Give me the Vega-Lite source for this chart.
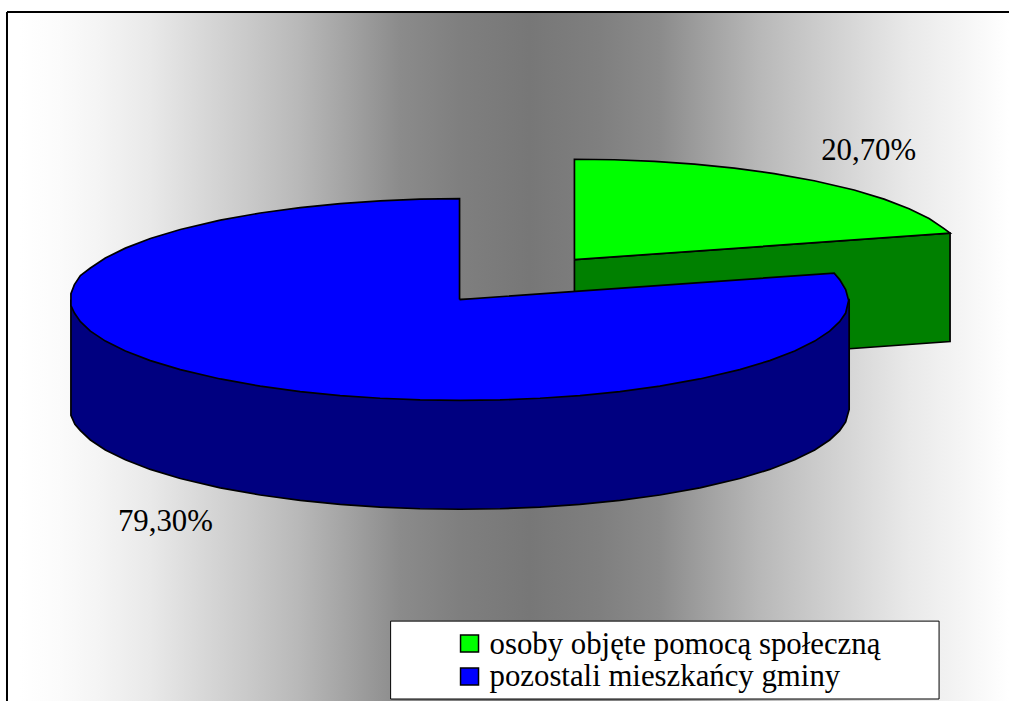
{
"$schema":"https://vega.github.io/schema/vega-lite/v6.json",
"width":1010,"height":702,"autosize":{"type":"fit","contains":"padding"},"padding":0,"background":"white",
"config":{"view":{"stroke":null}},
"datasets":{
"frame":[{"x":7,"x2":1010,"y":12,"y2":702}],
"topline":[{"x":7,"x2":1010,"y":12}],
"leftline":[{"x":7,"y":12,"y2":702}],
"legendbox":[{"x":391,"x2":940,"y":622,"y2":700}],
"swatches":[{"label":"osoby objęte pomocą społeczną","x":461,"x2":479,"y":636,"y2":653},{"label":"pozostali mieszkańcy gminy","x":461,"x2":479,"y":669,"y2":686}],
"labels":[{"label":"20,70%","x":822,"y":160},{"label":"79,30%","x":118,"y":532},{"label":"osoby objęte pomocą społeczną","x":490,"y":655},{"label":"pozostali mieszkańcy gminy","x":490,"y":687}],
"greenwall":[{"i":0,"x":575,"y":260},{"i":1,"x":951,"y":233.5},{"i":2,"x":951,"y":342},{"i":3,"x":575,"y":369},{"i":4,"x":575,"y":260}],
"greentop":[{"i":0,"x":575,"y":260},{"i":1,"x":575,"y":159.5},{"i":2,"x":615,"y":160},{"i":3,"x":655,"y":161.7},{"i":4,"x":695,"y":164.4},{"i":5,"x":735,"y":168.4},{"i":6,"x":775,"y":173.8},{"i":7,"x":815,"y":181},{"i":8,"x":855,"y":190.3},{"i":9,"x":885,"y":199.4},{"i":10,"x":910,"y":209},{"i":11,"x":930,"y":218.9},{"i":12,"x":945,"y":228.9},{"i":13,"x":951,"y":233.5},{"i":14,"x":575,"y":260}],
"bluewall":[{"i":0,"x":71,"y":300},{"i":1,"x":71,"y":416},{"i":2,"x":75,"y":425},{"i":3,"x":80.5,"y":431.2},{"i":4,"x":90.5,"y":440.6},{"i":5,"x":105.5,"y":450.6},{"i":6,"x":125.5,"y":460.5},{"i":7,"x":150.5,"y":470.1},{"i":8,"x":180.5,"y":479.2},{"i":9,"x":220.5,"y":488.5},{"i":10,"x":260.5,"y":495.7},{"i":11,"x":300.5,"y":501.1},{"i":12,"x":340.5,"y":505.1},{"i":13,"x":380.5,"y":507.8},{"i":14,"x":420.5,"y":509.5},{"i":15,"x":460.5,"y":510},{"i":16,"x":500.5,"y":509.5},{"i":17,"x":540.5,"y":507.8},{"i":18,"x":580.5,"y":505.1},{"i":19,"x":620.5,"y":501.1},{"i":20,"x":660.5,"y":495.7},{"i":21,"x":700.5,"y":488.5},{"i":22,"x":740.5,"y":479.2},{"i":23,"x":770.5,"y":470.1},{"i":24,"x":795.5,"y":460.5},{"i":25,"x":815.5,"y":450.6},{"i":26,"x":830.5,"y":440.6},{"i":27,"x":840.5,"y":431.2},{"i":28,"x":846.5,"y":422.5},{"i":29,"x":850,"y":410},{"i":30,"x":850,"y":300},{"i":31,"x":71,"y":300}],
"bluetop":[{"i":0,"x":460,"y":300},{"i":1,"x":460,"y":199},{"i":2,"x":420.5,"y":199.5},{"i":3,"x":380.5,"y":201.2},{"i":4,"x":340.5,"y":203.9},{"i":5,"x":300.5,"y":207.9},{"i":6,"x":260.5,"y":213.3},{"i":7,"x":220.5,"y":220.5},{"i":8,"x":180.5,"y":229.8},{"i":9,"x":150.5,"y":238.9},{"i":10,"x":125.5,"y":248.5},{"i":11,"x":105.5,"y":258.4},{"i":12,"x":90.5,"y":268.4},{"i":13,"x":80.5,"y":276},{"i":14,"x":74.5,"y":285},{"i":15,"x":71,"y":294},{"i":16,"x":71,"y":306},{"i":17,"x":74.5,"y":313.5},{"i":18,"x":80.5,"y":322.2},{"i":19,"x":90.5,"y":331.6},{"i":20,"x":105.5,"y":341.6},{"i":21,"x":125.5,"y":351.5},{"i":22,"x":150.5,"y":361.1},{"i":23,"x":180.5,"y":370.2},{"i":24,"x":220.5,"y":379.5},{"i":25,"x":260.5,"y":386.7},{"i":26,"x":300.5,"y":392.1},{"i":27,"x":340.5,"y":396.1},{"i":28,"x":380.5,"y":398.8},{"i":29,"x":420.5,"y":400.5},{"i":30,"x":460.5,"y":401},{"i":31,"x":500.5,"y":400.5},{"i":32,"x":540.5,"y":398.8},{"i":33,"x":580.5,"y":396.1},{"i":34,"x":620.5,"y":392.1},{"i":35,"x":660.5,"y":386.7},{"i":36,"x":700.5,"y":379.5},{"i":37,"x":740.5,"y":370.2},{"i":38,"x":770.5,"y":361.1},{"i":39,"x":795.5,"y":351.5},{"i":40,"x":815.5,"y":341.6},{"i":41,"x":830.5,"y":331.6},{"i":42,"x":840.5,"y":322.2},{"i":43,"x":846.5,"y":313.5},{"i":44,"x":849.5,"y":301},{"i":45,"x":846.5,"y":290},{"i":46,"x":840.5,"y":280},{"i":47,"x":835,"y":273.5},{"i":48,"x":460,"y":300}]
},
"encoding":{
"x":{"field":"x","type":"quantitative","scale":{"domain":[0,1010],"nice":false,"zero":false},"axis":null},
"y":{"field":"y","type":"quantitative","scale":{"domain":[702,0],"nice":false,"zero":false},"axis":null}
},
"layer":[
{"data":{"name":"frame"},"mark":{"type":"rect","fill":{"gradient":"linear","x1":0,"y1":0,"x2":1,"y2":0,"stops":[{"offset":0,"color":"#ffffff"},{"offset":0.013,"color":"#ffffff"},{"offset":0.053,"color":"#fbfbfb"},{"offset":0.093,"color":"#f4f4f4"},{"offset":0.143,"color":"#e9e9e9"},{"offset":0.192,"color":"#d9d9d9"},{"offset":0.242,"color":"#c9c9c9"},{"offset":0.292,"color":"#b8b8b8"},{"offset":0.342,"color":"#a2a2a2"},{"offset":0.392,"color":"#8b8b8b"},{"offset":0.452,"color":"#7f7f7f"},{"offset":0.521,"color":"#777777"},{"offset":0.591,"color":"#7f7f7f"},{"offset":0.651,"color":"#8b8b8b"},{"offset":0.701,"color":"#a2a2a2"},{"offset":0.751,"color":"#b8b8b8"},{"offset":0.801,"color":"#c9c9c9"},{"offset":0.85,"color":"#d9d9d9"},{"offset":0.9,"color":"#e9e9e9"},{"offset":0.95,"color":"#f4f4f4"},{"offset":0.99,"color":"#fdfdfd"},{"offset":1,"color":"#ffffff"}]}},"encoding":{"x2":{"field":"x2"},"y2":{"field":"y2"}}},
{"data":{"name":"topline"},"mark":{"type":"rule","stroke":"#000000","strokeWidth":2},"encoding":{"x2":{"field":"x2"}}},
{"data":{"name":"leftline"},"mark":{"type":"rule","stroke":"#000000","strokeWidth":2},"encoding":{"y2":{"field":"y2"}}},
{"data":{"name":"greenwall"},"mark":{"type":"line","fill":"#008000","stroke":"#000000","strokeWidth":1.7,"strokeJoin":"miter"},"encoding":{"order":{"field":"i"}}},
{"data":{"name":"greentop"},"mark":{"type":"line","fill":"#00ff00","stroke":"#000000","strokeWidth":1.7,"strokeJoin":"miter"},"encoding":{"order":{"field":"i"}}},
{"data":{"name":"bluewall"},"mark":{"type":"line","fill":"#000080","stroke":"#000000","strokeWidth":1.7,"strokeJoin":"miter"},"encoding":{"order":{"field":"i"}}},
{"data":{"name":"bluetop"},"mark":{"type":"line","fill":"#0000ff","stroke":"#000000","strokeWidth":1.7,"strokeJoin":"miter"},"encoding":{"order":{"field":"i"}}},
{"data":{"name":"legendbox"},"mark":{"type":"rect","fill":"#ffffff","stroke":"#000000","strokeWidth":1},"encoding":{"x2":{"field":"x2"},"y2":{"field":"y2"}}},
{"data":{"name":"swatches"},"mark":{"type":"rect","stroke":"#000000","strokeWidth":1.5},"encoding":{"x2":{"field":"x2"},"y2":{"field":"y2"},"fill":{"field":"label","type":"nominal","legend":null,"scale":{"domain":["osoby objęte pomocą społeczną","pozostali mieszkańcy gminy"],"range":["#00ff00","#0000ff"]}}}},
{"data":{"name":"labels"},"mark":{"type":"text","align":"left","baseline":"alphabetic","font":"Liberation Serif","fontSize":30.8,"color":"#000000"},"encoding":{"text":{"field":"label"}}}
]
}
